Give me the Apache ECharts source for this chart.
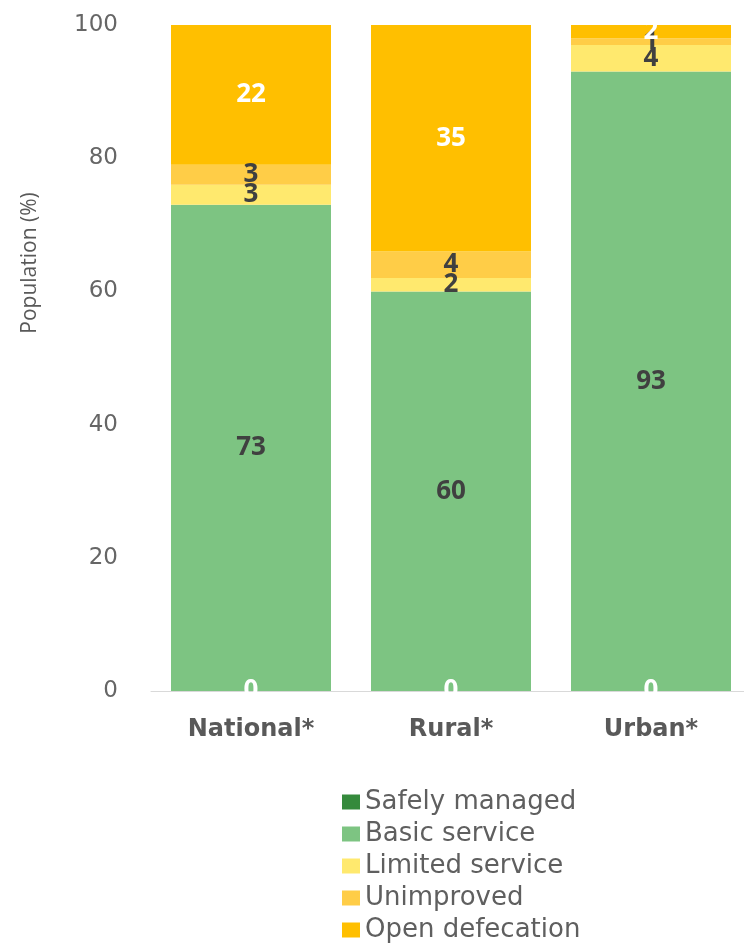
<!DOCTYPE html>
<html>
<head>
<meta charset="utf-8">
<script src="https://cdn.jsdelivr.net/npm/echarts@6/dist/echarts.min.js"></script>
<style>
  html, body { margin: 0; padding: 0; background: #ffffff; overflow: hidden; width: 744px; height: 944px; }
  /* the plot runs slightly past the right edge of the page, so the canvas is a bit larger than the view */
  #chart { width: 751px; height: 970px; }
</style>
</head>
<body>
<div id="chart"></div>
<script>
// Sanitation service ladder by area (percentage of population)
const categories = ['National*', 'Rural*', 'Urban*'];
const seriesNames = ['Safely managed', 'Basic service', 'Limited service', 'Unimproved', 'Open defecation'];
const safelyManaged = [0, 0, 0];
const basicService = [73, 60, 93];
const limitedService = [3, 2, 4];
const unimproved = [3, 4, 1];
const openDefecation = [22, 35, 2];
const yTicks = [0, 20, 40, 60, 80, 100];

const values = [safelyManaged, basicService, limitedService, unimproved, openDefecation];
const colors = ['#358a3c', '#7dc482', '#ffe96e', '#ffcd47', '#ffbf00'];
const labelColors = ['#ffffff', '#404040', '#404040', '#404040', '#ffffff'];

const chart = echarts.init(document.getElementById('chart'), null, { renderer: 'canvas' });

const series = seriesNames.map((name, i) => ({
  name: name,
  type: 'bar',
  stack: 'total',
  barCategoryGap: '20%',
  data: values[i],
  itemStyle: { color: colors[i] },
  label: {
    show: true,
    position: 'inside',
    color: labelColors[i],
    fontFamily: 'Open Sans',
    fontWeight: 'bold',
    fontSize: 26
  },
  emphasis: { disabled: true }
}));

chart.setOption({
  animation: false,
  backgroundColor: '#ffffff',
  grid: { left: 151, right: 0, top: 25, height: 666, containLabel: false },
  legend: {
    orient: 'vertical',
    left: 337,
    top: 784,
    itemWidth: 18,
    itemHeight: 15,
    itemGap: 6,
    icon: 'rect',
    data: seriesNames,
    textStyle: {
      fontFamily: 'DejaVu Sans',
      fontSize: 26,
      lineHeight: 26,
      color: '#5f5f5f'
    }
  },
  xAxis: {
    type: 'category',
    data: categories,
    axisLine: { lineStyle: { color: '#d9d9d9', width: 1 } },
    axisTick: { show: false },
    axisLabel: {
      margin: 27,
      fontFamily: 'DejaVu Sans',
      fontWeight: 'bold',
      fontSize: 24,
      color: '#595959'
    }
  },
  yAxis: {
    type: 'value',
    min: yTicks[0],
    max: yTicks[yTicks.length - 1],
    interval: 20,
    splitLine: { show: false },
    axisLine: { show: false },
    axisTick: { show: false },
    axisLabel: {
      margin: 33,
      fontFamily: 'DejaVu Sans',
      fontSize: 23,
      color: '#666666'
    }
  },
  graphic: [{
    type: 'text',
    x: 30,
    y: 263,
    rotation: Math.PI / 2,
    style: {
      text: 'Population (%)',
      fontFamily: 'Open Sans',
      fontSize: 21,
      fill: '#595959',
      align: 'center',
      verticalAlign: 'middle'
    }
  }],
  series: series
});
</script>
</body>
</html>
